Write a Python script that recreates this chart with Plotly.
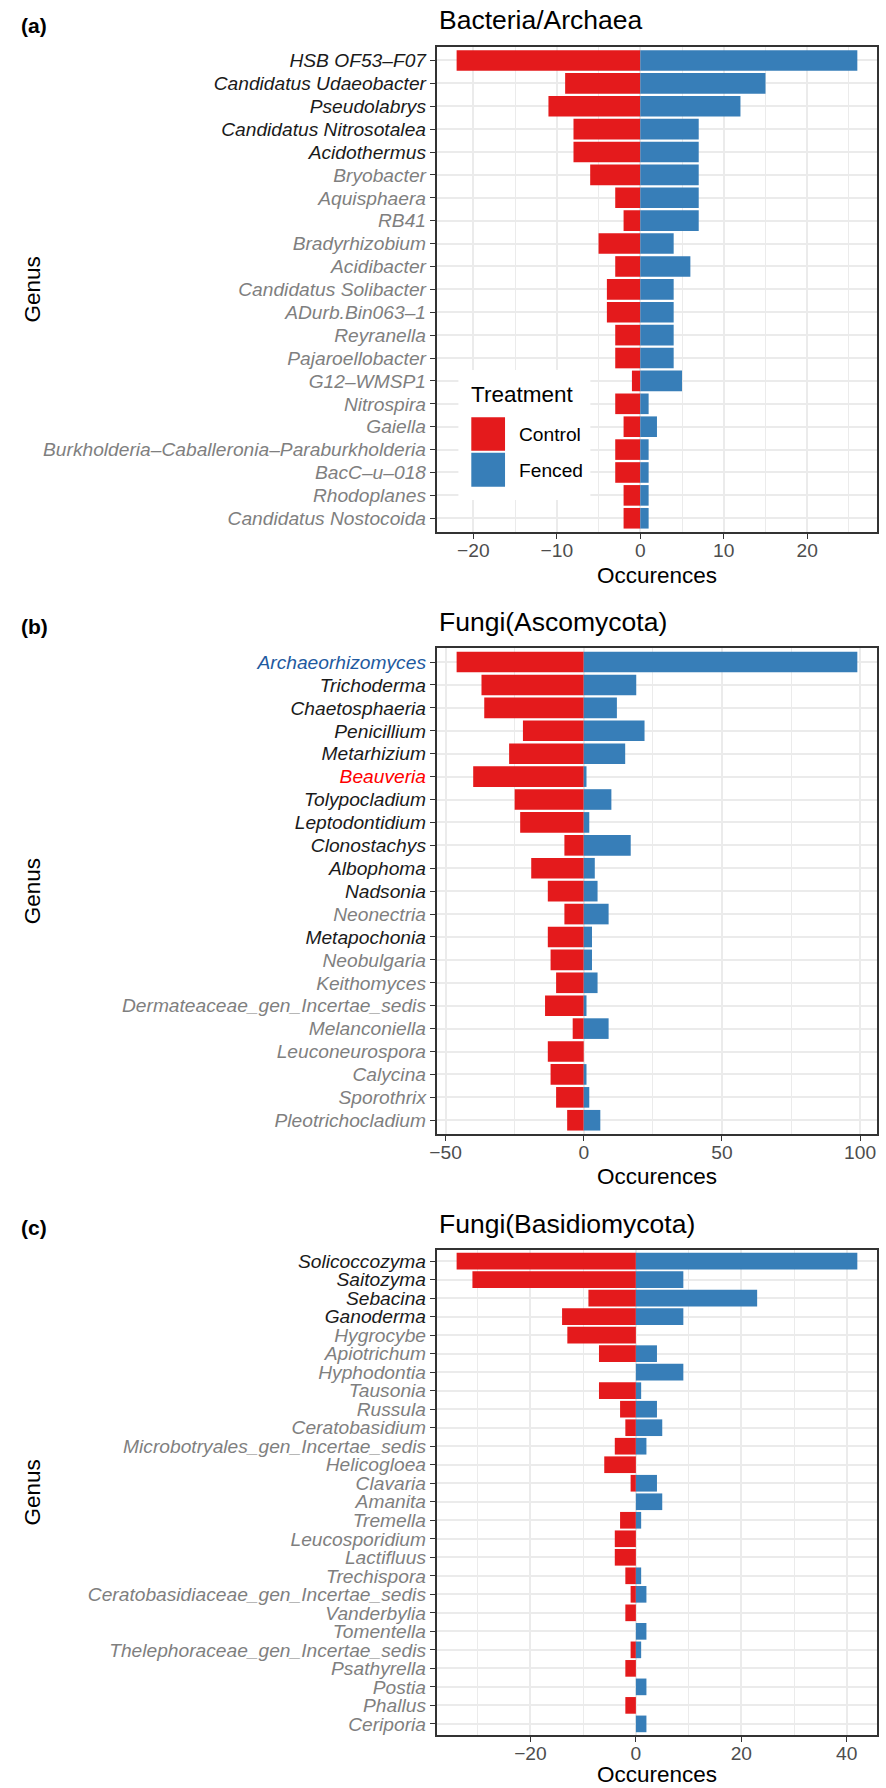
import plotly.graph_objects as go

W, H = 886, 1788
FONT = "Liberation Sans, Arial, Helvetica, sans-serif"

RED = "#E41A1C"
BLUE = "#377EB8"
GRID = "#EBEBEB"
BORDER = "#333333"
TICK_TXT = "#4D4D4D"
DARK_TXT = "#1A1A1A"
GREY_TXT = "#7F7F7F"

# ---------------- data ----------------
bac_genus = [
    "HSB OF53-F07", "Candidatus Udaeobacter", "Pseudolabrys", "Candidatus Nitrosotalea",
    "Acidothermus", "Bryobacter", "Aquisphaera", "RB41", "Bradyrhizobium", "Acidibacter",
    "Candidatus Solibacter", "ADurb.Bin063-1", "Reyranella", "Pajaroellobacter", "G12-WMSP1",
    "Nitrospira", "Gaiella", "Burkholderia-Caballeronia-Paraburkholderia", "BacC-u-018",
    "Rhodoplanes", "Candidatus Nostocoida",
]
bac_control = [-22, -9, -11, -8, -8, -6, -3, -2, -5, -3, -4, -4, -3, -3, -1, -3, -2, -3, -3, -2, -2]
bac_fenced = [26, 15, 12, 7, 7, 7, 7, 7, 4, 6, 4, 4, 4, 4, 5, 1, 2, 1, 1, 1, 1]

asco_genus = [
    "Archaeorhizomyces", "Trichoderma", "Chaetosphaeria", "Penicillium", "Metarhizium",
    "Beauveria", "Tolypocladium", "Leptodontidium", "Clonostachys", "Albophoma", "Nadsonia",
    "Neonectria", "Metapochonia", "Neobulgaria", "Keithomyces",
    "Dermateaceae_gen_Incertae_sedis", "Melanconiella", "Leuconeurospora", "Calycina",
    "Sporothrix", "Pleotrichocladium",
]
asco_control = [-46, -37, -36, -22, -27, -40, -25, -23, -7, -19, -13, -7, -13, -12, -10, -14, -4, -13, -12, -10, -6]
asco_fenced = [99, 19, 12, 22, 15, 1, 10, 2, 17, 4, 5, 9, 3, 3, 5, 1, 9, 0, 1, 2, 6]

basi_genus = [
    "Solicoccozyma", "Saitozyma", "Sebacina", "Ganoderma", "Hygrocybe", "Apiotrichum",
    "Hyphodontia", "Tausonia", "Russula", "Ceratobasidium", "Microbotryales_gen_Incertae_sedis",
    "Helicogloea", "Clavaria", "Amanita", "Tremella", "Leucosporidium", "Lactifluus",
    "Trechispora", "Ceratobasidiaceae_gen_Incertae_sedis", "Vanderbylia", "Tomentella",
    "Thelephoraceae_gen_Incertae_sedis", "Psathyrella", "Postia", "Phallus", "Ceriporia",
]
basi_control = [-34, -31, -9, -14, -13, -7, 0, -7, -3, -2, -4, -6, -1, 0, -3, -4, -4, -2, -1, -2, 0, -1, -2, 0, -2, 0]
basi_fenced = [42, 9, 23, 9, 0, 4, 9, 1, 4, 5, 2, 0, 4, 5, 1, 0, 0, 1, 2, 0, 2, 1, 0, 2, 0, 2]

x_tick_step = {"a": 10, "b": 50, "c": 20}

# genus label emphasis (dark = shared core genera, colored = highlighted taxa)
dark_labels = {
    "HSB OF53-F07", "Candidatus Udaeobacter", "Pseudolabrys", "Candidatus Nitrosotalea",
    "Acidothermus", "Trichoderma", "Chaetosphaeria", "Penicillium", "Metarhizium",
    "Tolypocladium", "Leptodontidium", "Clonostachys", "Albophoma", "Nadsonia",
    "Metapochonia", "Solicoccozyma", "Saitozyma", "Sebacina", "Ganoderma",
}
label_color_override = {"Archaeorhizomyces": "#1E5AA0", "Beauveria": "#FF0000"}

TICK_SIZE = 19.2
AXIS_TITLE_SIZE = 22.5


def label_html(name):
    color = label_color_override.get(name, DARK_TXT if name in dark_labels else GREY_TXT)
    shown = name.replace("-", "\u2013")
    return f'<span style="color:{color}"><i>{shown}</i></span>'


def padded_range(lo, hi, frac=0.05):
    pad = (hi - lo) * frac
    return [lo - pad, hi + pad]


def py(v):
    return 1 - v / H


def px(v):
    return v / W


# panel geometry in pixels: (top, bottom)
X0, X1 = 433.0, 877.3
panels = [
    dict(key="a", genus=bac_genus, control=bac_control, fenced=bac_fenced,
         title="Bacteria/Archaea", top=46.7, bottom=532.0, title_y=19.5, tag_y=25.5,
         xtitle_y=575.5),
    dict(key="b", genus=asco_genus, control=asco_control, fenced=asco_fenced,
         title="Fungi(Ascomycota)", top=648.3, bottom=1134.0, title_y=621.5, tag_y=626.5,
         xtitle_y=1176.5),
    dict(key="c", genus=basi_genus, control=basi_control, fenced=basi_fenced,
         title="Fungi(Basidiomycota)", top=1250.0, bottom=1735.0, title_y=1223.5, tag_y=1227.5,
         xtitle_y=None),
]

fig = go.Figure()
annotations = []
layout_axes = {}

for i, p in enumerate(panels, start=1):
    sfx = "" if i == 1 else str(i)
    xa, ya = f"x{sfx}", f"y{sfx}"
    n = len(p["genus"])

    fig.add_trace(go.Bar(
        y=p["genus"], x=p["control"], orientation="h", width=0.9, name="Control",
        marker=dict(color=RED, line=dict(width=0)), xaxis=xa, yaxis=ya, showlegend=False,
    ))
    fig.add_trace(go.Bar(
        y=p["genus"], x=p["fenced"], orientation="h", width=0.9, name="Fenced",
        marker=dict(color=BLUE, line=dict(width=0)), xaxis=xa, yaxis=ya, showlegend=False,
    ))

    step = x_tick_step[p["key"]]
    lo = min(min(p["control"]), 0)
    hi = max(max(p["fenced"]), 0)
    layout_axes[f"xaxis{sfx}"] = dict(
        domain=[px(X0), px(X1)], anchor=ya, range=padded_range(lo, hi),
        tick0=0, dtick=step, showgrid=True, gridcolor=GRID, gridwidth=1.6,
        minor=dict(tick0=step / 2, dtick=step, showgrid=True, gridcolor=GRID, gridwidth=0.8,
                   ticks=""),
        ticks="outside", ticklen=5, tickwidth=1.3, tickcolor=BORDER, ticklabelstandoff=-5,
        showline=True, mirror=True, linecolor=BORDER, linewidth=1.5, zeroline=False,
        tickfont=dict(family=FONT, size=TICK_SIZE, color=TICK_TXT),
    )
    layout_axes[f"yaxis{sfx}"] = dict(
        domain=[py(p["bottom"]), py(p["top"])], anchor=xa, type="category",
        categoryorder="array", categoryarray=p["genus"], range=[n - 0.4, -0.6],
        tickvals=p["genus"], ticktext=[label_html(g) for g in p["genus"]],
        showgrid=True, gridcolor=GRID, gridwidth=1.6,
        ticks="outside", ticklen=5, tickwidth=1.3, tickcolor=BORDER,
        showline=True, mirror=True, linecolor=BORDER, linewidth=1.5, zeroline=False,
        tickfont=dict(family=FONT, size=TICK_SIZE, color=TICK_TXT),
    )

    # panel title, tag, and axis titles
    annotations.append(dict(text=p["title"], x=px(X0), y=py(p["title_y"]), xref="paper",
                            yref="paper", xanchor="left", yanchor="middle", showarrow=False,
                            font=dict(family=FONT, size=26.5, color="black")))
    annotations.append(dict(text=f"<b>({p['key']})</b>", x=px(12), y=py(p["tag_y"]),
                            xref="paper", yref="paper", xanchor="left", yanchor="middle",
                            showarrow=False, font=dict(family=FONT, size=21, color="black")))
    if p["xtitle_y"] is None:
        xt = dict(y=py(H - 0.5), yanchor="bottom", borderpad=0)
    else:
        xt = dict(y=py(p["xtitle_y"]), yanchor="middle")
    annotations.append(dict(text="Occurences", x=px((X0 + X1) / 2), xref="paper", yref="paper",
                            xanchor="center", showarrow=False,
                            font=dict(family=FONT, size=AXIS_TITLE_SIZE, color="black"), **xt))
    annotations.append(dict(text="Genus", x=px(25.3), y=py((p["top"] + p["bottom"]) / 2),
                            xref="paper", yref="paper", xanchor="center", yanchor="middle",
                            textangle=-90, showarrow=False,
                            font=dict(family=FONT, size=AXIS_TITLE_SIZE, color="black")))

# treatment legend drawn inside panel (a)
shapes = [
    dict(type="rect", xref="paper", yref="paper", x0=px(455), x1=px(588), y0=py(500), y1=py(370),
         fillcolor="white", line=dict(width=0), layer="above"),
    dict(type="rect", xref="paper", yref="paper", x0=px(468), x1=px(502), y0=py(450.7),
         y1=py(417.3), fillcolor=RED, line=dict(width=0), layer="above"),
    dict(type="rect", xref="paper", yref="paper", x0=px(468), x1=px(502), y0=py(486.7),
         y1=py(452.7), fillcolor=BLUE, line=dict(width=0), layer="above"),
]
annotations.append(dict(text="Treatment", x=px(466), y=py(394.5), xref="paper", yref="paper",
                        xanchor="left", yanchor="middle", showarrow=False,
                        font=dict(family=FONT, size=AXIS_TITLE_SIZE, color="black")))
for lbl, yc in (("Control", 434.3), ("Fenced", 470.7)):
    annotations.append(dict(text=lbl, x=px(514), y=py(yc), xref="paper", yref="paper",
                            xanchor="left", yanchor="middle", showarrow=False,
                            font=dict(family=FONT, size=TICK_SIZE, color="black")))

fig.update_layout(
    width=W, height=H, margin=dict(l=0, r=0, t=0, b=0),
    paper_bgcolor="white", plot_bgcolor="white", barmode="overlay", bargap=0.1,
    font=dict(family=FONT, color="black"),
    annotations=annotations, shapes=shapes, **layout_axes,
)

fig.write_html("out.html")
